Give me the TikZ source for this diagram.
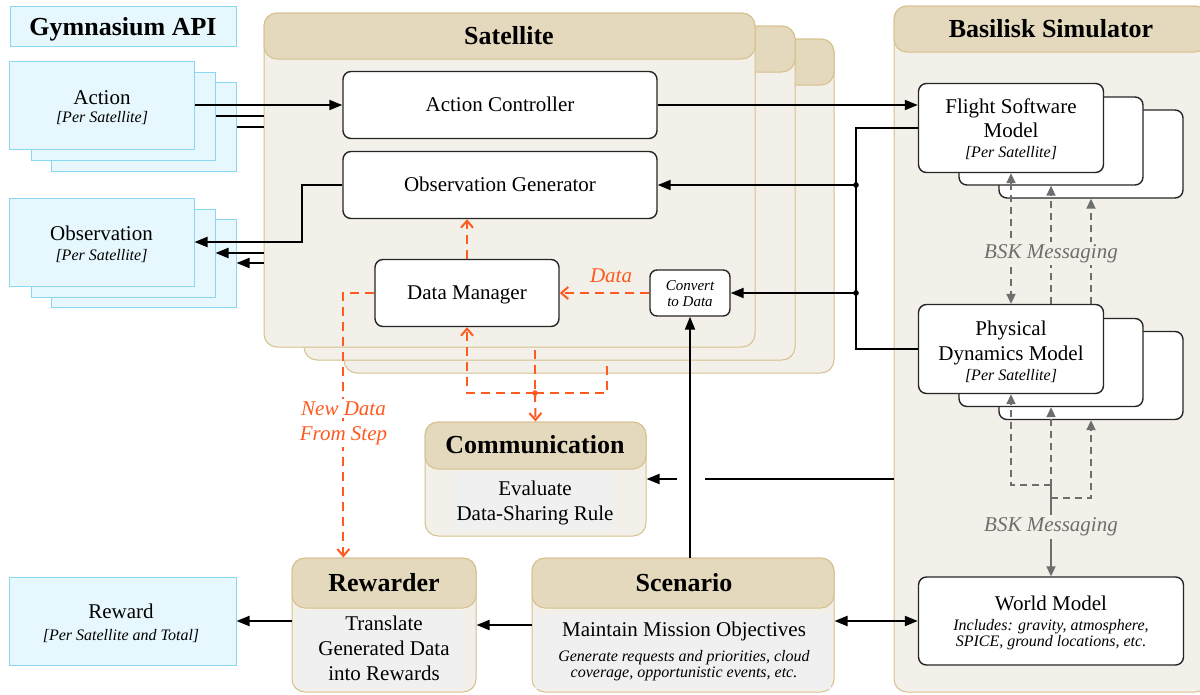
\documentclass[tikz,border=0pt]{standalone}
\usepackage{fontspec}
\setmainfont{Liberation Serif}
\usetikzlibrary{arrows.meta,calc}
\definecolor{cyanfill}{HTML}{E6F8FD}
\definecolor{cyanline}{HTML}{8BD6F2}
\definecolor{tanhead}{HTML}{E4D9BC}
\definecolor{tanline}{HTML}{D6C08E}
\definecolor{tanbody}{HTML}{F2F0E9}
\definecolor{panel}{HTML}{F0F0F0}
\definecolor{dataorange}{HTML}{FF5A1F}
\definecolor{bskgray}{HTML}{6E6E6E}
\newcommand\dgmain{\fontsize{21}{24}\selectfont}
\newcommand\dgsmall{\fontsize{16}{18}\selectfont\itshape}
\newcommand\dgtitle{\fontsize{26}{30}\selectfont\bfseries}
\newcommand\dgconv{\fontsize{15}{17}\selectfont\itshape}
\newcommand\dglabel{\fontsize{21}{24}\selectfont\itshape}
\begin{document}
\begin{tikzpicture}[x=1pt,y=-1pt,
 sz/.style 2 args={minimum width=#1,minimum height=#2},
 cbox/.style={draw=cyanline,fill=cyanfill,line width=1pt,inner sep=0pt},
 tbody/.style={draw=tanline,fill=tanbody,line width=1pt,rounded corners=13pt,inner sep=0pt},
 thead/.style={draw=tanline,fill=tanhead,line width=1pt,rounded corners=13pt,inner sep=0pt},
 wbox/.style={draw=black!85,fill=white,line width=1.4pt,rounded corners=8pt,inner sep=0pt},
 panelbox/.style={fill=panel,draw=none,inner sep=0pt},
 txt/.style={anchor=base,inner sep=0pt,font=\dgmain},
 stxt/.style={anchor=base,inner sep=0pt,font=\dgsmall},
 ttxt/.style={anchor=base,inner sep=0pt,font=\dgtitle},
 ctxt/.style={anchor=base,inner sep=0pt,font=\dgconv},
 olabel/.style={anchor=base,inner sep=2.5pt,font=\dglabel,text=dataorange,fill=white},
 glabel/.style={anchor=base,inner sep=2.5pt,font=\dglabel,text=bskgray,fill=tanbody},
 conn/.style={line width=2pt,draw=black},
 arr/.style={conn,-{Triangle[length=13pt,width=10pt]}},
 darr/.style={conn,{Triangle[length=13pt,width=10pt]}-{Triangle[length=13pt,width=10pt]}},
 odash/.style={draw=dataorange,line width=2pt,dash pattern=on 9pt off 6pt},
 oarr/.style={odash,-{Straight Barb[length=7pt,width=12pt]}},
 gdash/.style={draw=bskgray,line width=2pt,dash pattern=on 7pt off 5pt},
 garr/.style={gdash,-{Triangle[length=10pt,width=9pt]}},
 gdarr/.style={gdash,{Triangle[length=10pt,width=9pt]}-{Triangle[length=10pt,width=9pt]}},
 gsolid/.style={draw=bskgray,line width=2pt,-{Triangle[length=10pt,width=9pt]}}
]
\fill[white] (0,0) rectangle (1200,694);
\useasboundingbox (0,0) rectangle (1200,694);

% ---------- Gymnasium API ----------
\node[cbox,sz={226}{40}] (gym) at (123,26) {};
\node[ttxt] (gymt) at (123,35.3) {Gymnasium API};

\node[cbox,sz={185}{89}] (a3) at (143.5,126.5) {};
\node[cbox,sz={184}{88}] (a2) at (123,116) {};
\node[cbox,sz={185}{88}] (a1) at (101.5,105) {};
\node[txt] (a1t) at (102,104) {Action};
\node[stxt] (a1s) at (102,122) {[Per Satellite]};

\node[cbox,sz={185}{88}] (o3) at (143.5,263) {};
\node[cbox,sz={184}{88}] (o2) at (123,253) {};
\node[cbox,sz={185}{88}] (o1) at (101.5,242) {};
\node[txt] (o1t) at (101.5,240) {Observation};
\node[stxt] (o1s) at (101.5,260) {[Per Satellite]};

\node[cbox,sz={227}{88}] (rew) at (122.5,621) {};
\node[txt] (rewt) at (121,618.3) {Reward};
\node[stxt] (rews) at (121,640) {[Per Satellite and Total]};

% ---------- Satellite stack ----------
\node[tbody,sz={490}{334}] (s3) at (589,206) {};
\node[thead,sz={490}{46}] (s3h) at (589,62) {};
\node[tbody,sz={491}{334}] (s2) at (549.5,193) {};
\node[thead,sz={491}{46}] (s2h) at (549.5,49) {};
\node[tbody,sz={491}{334}] (s1) at (509.5,180) {};
\node[thead,sz={491}{46}] (s1h) at (509.5,36) {};
\node[ttxt] (s1t) at (509,44) {Satellite};

\node[wbox,sz={314}{67}] (ac) at (500,105) {};
\node[txt] (act) at (500,111) {Action Controller};
\node[wbox,sz={314}{67}] (og) at (500,185) {};
\node[txt] (ogt) at (500,191) {Observation Generator};
\node[wbox,sz={184}{67}] (dm) at (467,293) {};
\node[txt] (dmt) at (467,299) {Data Manager};
\node[wbox,sz={80}{46},rounded corners=7pt] (cd) at (690,293) {};
\node[ctxt] (cdt1) at (690,290) {Convert};
\node[ctxt] (cdt2) at (690,306) {to Data};

% ---------- Basilisk ----------
\node[tbody,sz={314}{686}] (bas) at (1051,349) {};
\node[thead,sz={314}{46}] (bash) at (1051,29) {};
\node[ttxt] (bast) at (1051,37.7) {Basilisk Simulator};

\node[wbox,sz={184}{88}] (f3) at (1091,154) {};
\node[wbox,sz={184}{88}] (f2) at (1051,141) {};
\node[wbox,sz={185}{89}] (f1) at (1011,128) {};
\node[txt] (f1t1) at (1011,113.3) {Flight Software};
\node[txt] (f1t2) at (1011,137.7) {Model};
\node[stxt] (f1s) at (1011,157.7) {[Per Satellite]};

\node[wbox,sz={184}{88}] (p3) at (1091,375.5) {};
\node[wbox,sz={184}{88}] (p2) at (1051,362.5) {};
\node[wbox,sz={185}{89}] (p1) at (1011,349) {};
\node[txt] (p1t1) at (1011,335) {Physical};
\node[txt] (p1t2) at (1011,360) {Dynamics Model};
\node[stxt] (p1s) at (1011,380) {[Per Satellite]};

\node[wbox,sz={265}{88}] (wm) at (1051,621) {};
\node[txt] (wmt) at (1051,610.7) {World Model};
\node[stxt] (wm1) at (1051,630) {Includes: gravity, atmosphere,};
\node[stxt] (wm2) at (1051,646) {SPICE, ground locations, etc.};

% ---------- Communication / Rewarder / Scenario ----------
\node[tbody,sz={221}{114}] (comm) at (535.5,479) {};
\node[thead,sz={221}{47}] (commh) at (535.5,445.5) {};
\node[panelbox,sz={162}{58}] (commp) at (534,502) {};
\node[ttxt] (commt) at (535,453.3) {Communication};
\node[txt] (ct1) at (535,495) {Evaluate};
\node[txt] (ct2) at (535,520) {Data-Sharing Rule};

\node[tbody,sz={184}{134}] (rw) at (384,625) {};
\node[thead,sz={184}{50}] (rwh) at (384,583) {};
\node[panelbox,sz={165}{77}] (rwp) at (379.5,649.5) {};
\node[ttxt] (rwt) at (384,591.7) {Rewarder};
\node[txt] (rt1) at (384,630.7) {Translate};
\node[txt] (rt2) at (384,655) {Generated Data};
\node[txt] (rt3) at (384,680) {into Rewards};

\node[tbody,sz={302}{134}] (sc) at (683,625) {};
\node[thead,sz={302}{50}] (sch) at (683,583) {};
\node[panelbox,sz={296}{75}] (scp) at (683,651) {};
\node[ttxt] (sct) at (684,591.7) {Scenario};
\node[txt] (sc1) at (684,636) {Maintain Mission Objectives};
\node[stxt] (sc2) at (684,661.7) {Generate requests and priorities, cloud};
\node[stxt] (sc3) at (684,677.3) {coverage, opportunistic events, etc.};

% ---------- black connectors ----------
\draw[arr] (a1.east) -- (a1.east -| ac.west);
\draw[conn] (a2.east) -- (a2.east -| s1.west);
\draw[conn] (a3.east) -- (a3.east -| s1.west);
\draw[arr] (ac.east) -- (ac.east -| f1.west);
\draw[arr] (og.west) -- ++(-40,0) |- (o1.east);
\draw[arr] (o2.east -| s1.west) -- (o2.east);
\draw[arr] (o3.east -| s1.west) -- (o3.east);

\coordinate (bus) at (856,0);
\draw[conn] (f1.west) -- (f1.west -| bus) -- (p1.west -| bus) -- (p1.west);
\coordinate (j1) at (og.east -| bus);
\coordinate (j2) at (cd.east -| bus);
\draw[arr] (j1) -- (og.east);
\draw[arr] (j2) -- (cd.east);
\fill (j1) circle (2.8pt);
\fill (j2) circle (2.8pt);

\draw[arr] (cd.south |- sch.north) -- (cd.south);
\draw[conn] (comm.east -| bas.west) -- ($(comm.east -| cd.south)+(15,0)$);
\draw[arr] ($(comm.east -| cd.south)+(-13,0)$) -- (comm.east);
\draw[darr] (wm.west -| sc.east) -- (wm.west);
\draw[arr] (sc.west) -- (sc.west -| rw.east);
\draw[arr] (rw.west |- rew.east) -- (rew.east);

% ---------- orange data flows ----------
\draw[oarr] (cd.west) -- (cd.west -| dm.east);
\node[anchor=base,inner sep=0pt,font=\dglabel,text=dataorange] (datal) at (611,282.7) {Data};
\draw[oarr] (dm.north) -- (dm.north |- og.south);
\coordinate (k) at ($(dm.west)+(-31,0)$);
\draw[oarr] (dm.west) -- (k) -- (k |- rwh.north);
\node[olabel] (nd1) at (343.5,415) {New Data};
\node[olabel] (nd2) at (343.5,440) {From Step};

\coordinate (cj) at (535,393);
\coordinate (s2tap) at (535,350);
\coordinate (s3tap) at (607,360);
\draw[oarr] (cj) -- (cj -| dm.south) -- (dm.south);
\draw[odash] (cj) -- (cj -| s3tap) -- (s3tap);
\draw[odash] (s2tap) -- (cj);
\draw[oarr] (cj) -- (commh.north);
\fill[dataorange] (cj) circle (2.8pt);

% ---------- gray BSK messaging ----------
\draw[gdarr] (f1.south) -- (p1.north);
\draw[garr] (p1.north -| f2.south) -- (f2.south);
\draw[garr] (p1.north -| f3.south) -- (f3.south);
\node[glabel] (bsk1) at (1051,258.3) {BSK Messaging};

\coordinate (m1) at (1051,485);
\coordinate (m3) at (1051,498);
\draw[garr] (m1) -- (m1 -| p1.south) -- (p1.south);
\draw[garr] (m3) -- (m3 -| p3.south) -- (p3.south);
\draw[garr] (m3) -- (p2.south);
\draw[gsolid] (m1) -- (wm.north);
\node[glabel] (bsk2) at (1051,531.7) {BSK Messaging};
\end{tikzpicture}
\end{document}
